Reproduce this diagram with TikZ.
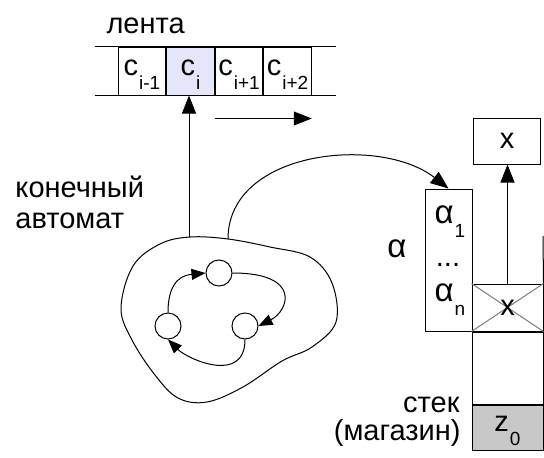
\documentclass[tikz,border=0pt]{standalone}
\usepackage{fontspec}
\setmainfont{Liberation Sans}
\usetikzlibrary{arrows.meta,positioning}

\newcommand{\txtfont}{\fontsize{29}{33}\selectfont}
\newcommand{\alfont}{\fontsize{33}{37}\selectfont}
\newcommand{\subfont}{\fontsize{19}{22}\selectfont}
\newcommand{\lowsub}[2]{#1\hspace{1pt}\raisebox{-14pt}{\subfont #2}}

\begin{document}
\begin{tikzpicture}[
  x=1pt, y=-1pt,
  line width=1pt,
  tapecell/.style={rectangle, draw, minimum width=47.5pt, minimum height=48pt, inner sep=0pt, text height=17pt, text depth=9pt, font=\txtfont},
  stackcell/.style={rectangle, draw, minimum width=71pt, inner sep=0pt, font=\txtfont},
  state/.style={circle, draw, minimum size=26pt, inner sep=0pt},
  lbl/.style={inner sep=0pt, font=\txtfont},
  arr/.style={-{Triangle[length=18pt, width=14pt]}},
  sarr/.style={-{Triangle[length=14pt, width=11pt]}}
]
  \useasboundingbox (0,0) rectangle (544,458);

  % tape
  \node[lbl, anchor=base west] (tapelbl) at (106,33) {лента};
  \node[tapecell] (cim) at (142,71) {\lowsub{c}{i-1}};
  \node[tapecell, fill={rgb,255:red,230;green,230;blue,250}, right=0pt of cim] (ci) {\lowsub{c}{i}};
  \node[tapecell, right=0pt of ci] (cip) {\lowsub{c}{i+1}};
  \node[tapecell, right=0pt of cip] (cipp) {\lowsub{c}{i+2}};
  \draw ([xshift=-23pt]cim.north west) -- ([xshift=24pt]cipp.north east);
  \draw ([xshift=-23pt]cim.south west) -- ([xshift=24pt]cipp.south east);
  \coordinate (mvfrom) at ([yshift=-23pt]cip.south west);
  \coordinate (mvto) at ([yshift=-23pt]cipp.south east);
  \draw[arr] (mvfrom) -- (mvto);

  % finite automaton
  \node[lbl, anchor=base west] (fa1) at (15,197) {конечный};
  \node[lbl, anchor=base west] (fa2) at (15,228) {автомат};
  \draw plot[smooth cycle, tension=0.6] coordinates {
    (190,237) (228,239) (270,247) (310,257) (332,283) (336,322)
    (312,347) (282,361) (243,387) (207,402) (178,398) (155,375)
    (132,340) (121,308) (133,266) (160,244)};
  \coordinate (head) at (189,237);
  \coordinate (push) at (228,239);
  \node[state] (s1) at (219,273) {};
  \node[state] (s2) at (168,326) {};
  \node[state] (s3) at (245,326) {};
  \draw[sarr] (s2.north) .. controls +(0,-35) and +(-20,2) .. (s1.west);
  \draw[sarr] (s1.east) .. controls +(70,0) and +(30,-15) .. (s3.east);
  \draw[sarr] (s3.south) .. controls +(0,45) and +(20,20) .. (s2.south);
  \draw[arr] (head) -- (head |- ci.south);

  % pushed string
  \node[rectangle, draw, minimum width=47pt, minimum height=142pt, inner sep=0pt] (abox) at (448.5,260) {};
  \node[lbl, font=\alfont, anchor=base] (alpha) at (397,257) {α};
  \node[lbl, font=\alfont, anchor=base west] (a1) at (434,223) {\lowsub{α}{1}};
  \node[lbl, anchor=base] (adots) at (448,266) {...};
  \node[lbl, font=\alfont, anchor=base west] (an) at (434,301) {\lowsub{α}{n}};
  \draw[arr] (push) .. controls (228,150) and (380,135) .. (abox.north);

  % stack
  \node[stackcell, minimum height=47pt] (sx) at (507.5,307.5) {};
  \draw[gray] (sx.north west) -- (sx.south east);
  \draw[gray] (sx.south west) -- (sx.north east);
  \node[lbl] (sxl) at (sx.center) {x};
  \node[stackcell, minimum height=72pt, below=0pt of sx] (se) {};
  \node[stackcell, minimum height=45pt, fill={rgb,255:red,200;green,200;blue,200}, below=0pt of se, text height=17pt, text depth=9pt] (sz) {\lowsub{z}{0}};
  \coordinate (wall) at (543,236);
  \draw (wall) -- (sx.north east);
  \node[rectangle, draw, minimum width=67pt, minimum height=46pt, inner sep=0pt, font=\txtfont] (top) at (507,141) {x};
  \draw[arr] (sx.north) -- (sx.north |- top.south);
  \node[lbl, anchor=base east] (st1) at (460,412) {стек};
  \node[lbl, anchor=base east] (st2) at (461,440) {(магазин)};
\end{tikzpicture}
\end{document}
